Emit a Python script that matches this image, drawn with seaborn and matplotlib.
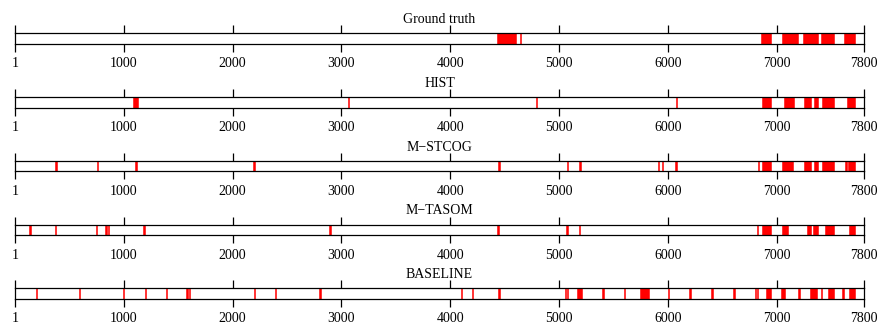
import matplotlib
matplotlib.use("Agg")
import matplotlib.pyplot as plt
import seaborn as sns

sns.set_theme(style="ticks")
plt.rcParams['font.family'] = ['Liberation Serif', 'DejaVu Serif']
plt.rcParams['text.color'] = 'black'

# ---- data ----
x_min, x_max = 1, 7800
tick_values = [1, 1000, 2000, 3000, 4000, 5000, 6000, 7000, 7800]
tick_labels = ["1", "1000", "2000", "3000", "4000", "5000", "6000", "7000", "7800"]
titles = ["Ground truth", "HIST", "M\u2212STCOG", "M\u2212TASOM", "BASELINE"]

gt_start = [4432, 4640, 6851, 7047, 7240, 7408, 7616]
gt_end = [4603, 4650, 6946, 7194, 7377, 7526, 7717]

hist_start = [1082, 3057, 4787, 6073, 6863, 7062, 7249, 7338, 7414, 7647]
hist_end = [1128, 3069, 4799, 6082, 6946, 7157, 7316, 7377, 7524, 7717]

stcog_start = [368, 754, 1106, 2190, 4438, 5072, 5179, 5908, 5941, 6064,
               6823, 6860, 7049, 7251, 7338, 7417, 7625, 7656]
stcog_end = [384, 763, 1119, 2206, 4453, 5081, 5198, 5917, 5954, 6085,
             6832, 6942, 7144, 7310, 7374, 7524, 7640, 7717]

tasom_start = [132, 365, 748, 828, 852, 1177, 2888, 4432, 5063, 5179,
               6817, 6860, 7047, 7279, 7335, 7442, 7662]
tasom_end = [145, 375, 757, 843, 867, 1192, 2901, 4450, 5081, 5194,
             6829, 6946, 7105, 7310, 7374, 7524, 7717]

base_start = [191, 592, 996, 1195, 1391, 1575, 1597, 2193, 2393, 2794,
              4098, 4196, 4441, 5053, 5069, 5161, 5396, 5595, 5742, 5999,
              6195, 6397, 6597, 6798, 6817, 6900, 7040, 7194, 7303, 7402,
              7472, 7595, 7665]
base_end = [200, 601, 1005, 1204, 1400, 1588, 1607, 2206, 2402, 2809,
            4107, 4205, 4453, 5062, 5081, 5210, 5409, 5607, 5825, 6008,
            6208, 6413, 6612, 6808, 6829, 6945, 7074, 7209, 7371, 7417,
            7524, 7613, 7714]

series = [(gt_start, gt_end), (hist_start, hist_end), (stcog_start, stcog_end),
          (tasom_start, tasom_end), (base_start, base_end)]

# ---- layout ----
W, H = 878, 324
fig = plt.figure(figsize=(W / 100, H / 100), dpi=100)
left_px, right_px = 15, 864
bar_h = 10.5
first_top, step = 33.3, 63.75

for i, (title, (starts, ends)) in enumerate(zip(titles, series)):
    top = first_top + step * i
    ax = fig.add_axes([left_px / W, 1 - (top + bar_h) / H,
                       (right_px - left_px) / W, bar_h / H])
    ax.broken_barh([(s, e - s) for s, e in zip(starts, ends)], (0, 1),
                   facecolors='#ff0000', edgecolor='#ff0000', linewidth=0.4)
    ax.set_xlim(x_min, x_max)
    ax.set_ylim(0, 1)
    ax.set_yticks([])
    ax.set_xticks(tick_values)
    ax.set_xticklabels(tick_labels)
    ax.tick_params(axis='x', which='both', top=True, bottom=True,
                   labeltop=False, direction='out', length=5.8, width=0.9,
                   color='black', labelcolor='black', labelsize=10, pad=4)
    for sp in ax.spines.values():
        sp.set_visible(True)
        sp.set_linewidth(0.9)
        sp.set_color('black')
        sp.set_zorder(5)
    ax.annotate(title, xy=(0.5, 1), xycoords='axes fraction',
                xytext=(0, 7.3), textcoords='offset points',
                ha='center', va='baseline', fontsize=10, color='black')

fig.savefig('out.png', dpi=100)
